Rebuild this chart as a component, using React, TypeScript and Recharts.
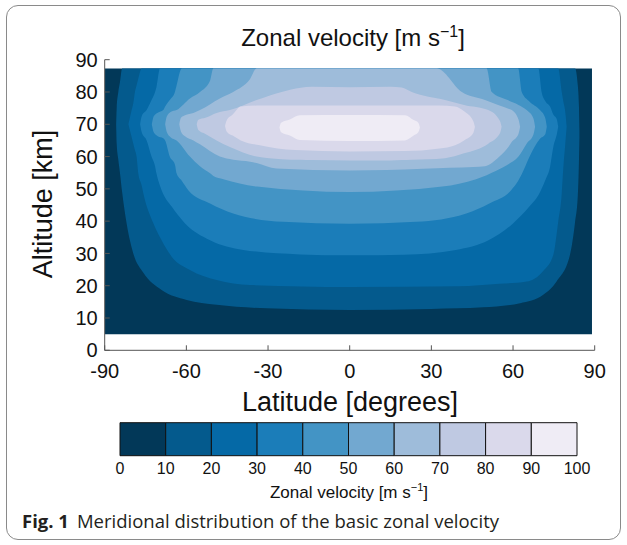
import React from 'react';
import { ComposedChart, Area, XAxis, YAxis, BarChart, Bar } from 'recharts';

const latTicks = [-90, -60, -30, 0, 30, 60, 90];
const altTicks = [0, 10, 20, 30, 40, 50, 60, 70, 80, 90];
const levels = [0, 10, 20, 30, 40, 50, 60, 70, 80, 90, 100];
const colors = ['#023858', '#045a8d', '#0569a6', '#1b7db9', '#4394c5', '#72a8d0', '#9ebcda', '#bfc9e2', '#dad9eb', '#efecf5'];

// filled contour regions, one per level: [latitude, lower altitude, upper altitude]
const band0 = [[-90, 5, 87.3], [89, 5, 87.3]];
const band10 = [
  [-85.8, 70, 70], [-85.6, 64, 75], [-85, 59, 80], [-84.4, 55, 83], [-83.6, 49, 87.3],
  [-81.9, 39, 87.3], [-79.5, 30, 87.3], [-75.8, 24, 87.3], [-69.1, 18.7, 87.3], [-59.9, 15.6, 87.3],
  [-48.9, 14.1, 87.3], [-30.5, 13, 87.3], [0, 12.5, 87.3], [30, 12.8, 87.3], [49, 13.3, 87.3],
  [62.6, 14.6, 87.3], [71.1, 17.2, 87.3], [76, 21.3, 87.3], [80.9, 29.5, 87.3], [82.8, 39.8, 87.3],
  [83.8, 48, 82], [84.2, 58, 76], [84.4, 66, 68],
];
const band20 = [
  [-81.3, 70, 70], [-80.1, 66, 74.4], [-79.5, 64, 76.5], [-78.9, 62, 80], [-78.3, 60, 82],
  [-77.7, 55, 84], [-76.4, 51, 87.3], [-75.8, 48.6, 87.3], [-72.1, 39.3, 87.3], [-69.1, 34.1, 87.3],
  [-65.4, 29, 87.3], [-58.7, 24.9, 87.3], [-48.9, 21.8, 87.3], [-36.6, 20.2, 87.3], [0, 19.6, 87.3],
  [40, 19.8, 87.3], [55, 20.6, 87.3], [65, 21.3, 87.3], [71, 24.5, 87.3], [74.8, 29.5, 87.3],
  [76.6, 39.8, 87.3], [77.9, 48.6, 80], [78.5, 56.8, 77], [79.1, 63, 74.4], [79.7, 69.2, 69.2],
];
const band30 = [
  [-77, 70, 70], [-76.4, 67.5, 72.5], [-74.6, 65, 74.4], [-72.8, 60, 77.5], [-71.5, 57, 80], [-71, 54.8, 81.5],
  [-69.7, 51, 87.3], [-69.1, 49.6, 87.3], [-65.4, 44.5, 87.3], [-60.5, 39.3, 87.3], [-51.3, 34.1, 87.3],
  [-39.1, 31.1, 87.3], [-18.2, 29.7, 87.3], [0, 29.4, 87.3], [20, 29.6, 87.3], [39, 31.1, 87.3],
  [51, 34.1, 87.3], [60, 39.3, 87.3], [66, 44.5, 87.3], [69.3, 48, 87.3], [70.5, 50, 80],
  [72, 53, 77], [73.6, 56.8, 75.5], [74.8, 63, 73], [76.1, 67, 71.5], [76.6, 69.2, 69.2],
];
const band40 = [
  [-72.7, 70, 70], [-72, 67.5, 72.5], [-70.5, 66.3, 73.6], [-68.5, 65.7, 74.4], [-67.8, 65, 75.5],
  [-66.1, 60, 77.5], [-64.2, 57.5, 80], [-63.6, 54.8, 82], [-61.7, 52.5, 87.3], [-59.3, 49.6, 87.3],
  [-51.3, 45.5, 87.3], [-42.8, 42.4, 87.3], [-24.4, 39.8, 87.3], [0, 39.2, 87.3], [24.4, 39.8, 87.3],
  [42.8, 42.4, 87.3], [51.3, 45.5, 87.3], [59.3, 49.6, 87.3], [61.9, 52.5, 87.3], [63.2, 54.5, 80],
  [66.1, 60, 77], [69.9, 65.5, 74.4], [71.8, 66.8, 72], [72.4, 69.2, 69.2],
];
const band50 = [
  [-67.8, 70, 70], [-67.2, 67.6, 72.4], [-65.8, 66, 73.8], [-63.6, 65, 74.4], [-58.7, 60, 78],
  [-55, 57, 80], [-51.3, 54.8, 83.5], [-50.1, 54, 87.3], [-46.4, 53, 87.3], [-34, 50.7, 87.3],
  [0, 49, 87.3], [34, 50.7, 87.3], [46.4, 53, 87.3], [50.3, 54.2, 87.3], [52.2, 55, 80],
  [58, 57.5, 77.5], [62, 60, 76], [65, 64, 74.4], [67.5, 66.8, 71.8], [68.1, 69.2, 69.2],
];
const band60 = [
  [-62.6, 70, 70], [-62, 67.8, 72], [-60.5, 66.3, 72.8], [-57.4, 65, 73.5], [-55, 63.8, 74.4],
  [-47.7, 60, 78], [-42.8, 59, 80], [-36.6, 58.4, 84], [-34.2, 58, 87.3], [-26.9, 56.3, 87.3],
  [0, 55.7, 87.3], [26.9, 56.2, 87.3], [32, 56.4, 87.3], [41.2, 56.6, 80], [49.7, 57, 77.5],
  [55, 60, 75.8], [58.3, 63, 74.8], [59.5, 64.5, 74.4], [62, 67, 71.5], [62.6, 69.2, 69.2],
];
const band70 = [
  [-56.2, 70, 70], [-55.6, 68.2, 71.4], [-53, 67, 72], [-48.9, 65, 73.5], [-44, 63, 74.4],
  [-34.2, 60, 77.5], [-25, 59.2, 80], [-18, 59, 81.3], [-14, 58.9, 81.6], [0, 58.8, 81.5],
  [15, 58.8, 81.6], [19.1, 58.9, 81.4], [22.8, 59, 80], [35, 59.5, 77.5], [42, 61, 76],
  [50.9, 64, 74.4], [55.2, 67.2, 71], [55.8, 69.2, 69.2],
];
const band80 = [
  [-45.8, 69.5, 69.5], [-45.2, 67.8, 71.2], [-43, 66.5, 73], [-40, 65, 75.5], [-33, 63.5, 75.8],
  [-20, 62, 75.8], [0, 61.6, 75.8], [20, 61.7, 75.8], [33, 62.5, 75.8], [38.7, 63.5, 75.5],
  [42, 65, 74], [45.4, 67.3, 70.9], [46, 69.2, 69.2],
];
const band90 = [
  [-25.8, 69, 69], [-25.2, 67.5, 70.5], [-22, 66.5, 71.5], [-18.3, 65.1, 72.8], [0, 64.8, 72.9],
  [20.3, 65, 72.8], [23.5, 66.5, 71.3], [25.2, 67.5, 70.5], [25.8, 69, 69],
];
const bands = [band0, band10, band20, band30, band40, band50, band60, band70, band80, band90];

const toRows = (pts: number[][]) => pts.map(([lat, lo, hi]) => ({ lat, alt: [lo, hi] }));

const cbRow: Record<string, number | string> = { name: 'v' };
levels.slice(1).forEach((v, i) => { cbRow['s' + i] = v - levels[i]; });

const FONT = '"Liberation Sans", Arial, sans-serif';
const noTick = () => <g />;

export default function App() {
  return (
    <div style={{ position: 'absolute', left: 0, top: 0, width: 627, height: 545, background: '#fff', fontFamily: FONT }}>
      <div style={{ position: 'absolute', left: 6, top: 5, width: 615, height: 535, border: '1px solid #8a8a8a', borderRadius: 12, boxSizing: 'border-box' }} />
      <div style={{ position: 'absolute', left: 0, top: 0 }}>
        <ComposedChart width={627} height={400} margin={{ top: 59.7, right: 32.3, bottom: 19.7, left: 44.7 }}>
          <XAxis xAxisId="b" dataKey="lat" type="number" domain={[-90, 90]} ticks={latTicks} interval={0}
            allowDataOverflow tickSize={-5} tickMargin={18} height={30}
            stroke="#555" tick={{ fontSize: 20, fill: '#111', fontFamily: FONT }} />
          <XAxis xAxisId="t" orientation="top" type="number" domain={[-90, 90]} ticks={latTicks} interval={0}
            tickSize={-5} height={0} stroke="#555" tick={noTick} />
          <YAxis yAxisId="l" type="number" domain={[0, 90]} ticks={altTicks} interval={0}
            allowDataOverflow tickSize={-5} tickMargin={12} width={60}
            stroke="#555" tick={{ fontSize: 20, fill: '#111', fontFamily: FONT }} />
          <YAxis yAxisId="r" orientation="right" type="number" domain={[0, 90]} ticks={altTicks} interval={0}
            tickSize={-5} width={0} stroke="#555" tick={noTick} />
          {bands.map((b, i) => (
            <Area key={i} xAxisId="b" yAxisId="l" data={toRows(b)} dataKey="alt" type="monotone"
              fill={colors[i]} fillOpacity={1} stroke="none" dot={false} activeDot={false}
              isAnimationActive={false} />
          ))}
        </ComposedChart>
      </div>
      <div style={{ position: 'absolute', left: 0, top: 410 }}>
        <BarChart width={627} height={100} layout="vertical" data={[cbRow]} barCategoryGap={0}
          margin={{ top: 12.7, right: 50, bottom: 32, left: 120 }}>
          <XAxis type="number" domain={[0, 100]} ticks={levels} interval={0} tickLine={false} axisLine={false}
            tickSize={0} tickMargin={7} height={22} tick={{ fontSize: 16, fill: '#111', fontFamily: FONT }} />
          <YAxis type="category" dataKey="name" hide />
          {colors.map((c, i) => (
            <Bar key={i} dataKey={'s' + i} stackId="cb" fill={c} stroke="#111" strokeWidth={1} isAnimationActive={false} />
          ))}
        </BarChart>
      </div>
      <svg width={627} height={545} style={{ position: 'absolute', left: 0, top: 0, pointerEvents: 'none' }}>
        <text x={353} y={46} textAnchor="middle" fontSize={24} fill="#111" fontFamily={FONT}>
          Zonal velocity [m s<tspan dy={-9} fontSize={16}>−1</tspan><tspan dy={9}>]</tspan>
        </text>
        <text x={0} y={0} transform="translate(52 204) rotate(-90)" textAnchor="middle" fontSize={27} fill="#111" fontFamily={FONT}>
          Altitude [km]
        </text>
        <text x={350} y={411} textAnchor="middle" fontSize={27} fill="#111" fontFamily={FONT}>
          Latitude [degrees]
        </text>
        <text x={349} y={498} textAnchor="middle" fontSize={17} fill="#111" fontFamily={FONT}>
          Zonal velocity [m s<tspan dy={-7} fontSize={11}>−1</tspan><tspan dy={7}>]</tspan>
        </text>
        <text x={22} y={528} fontSize={18.5} fill="#231f20" fontFamily='"Open Sans", "Noto Sans", sans-serif'>
          <tspan fontWeight="bold">Fig. 1</tspan>
          <tspan dx={8}>Meridional distribution of the basic zonal velocity</tspan>
        </text>
      </svg>
    </div>
  );
}
